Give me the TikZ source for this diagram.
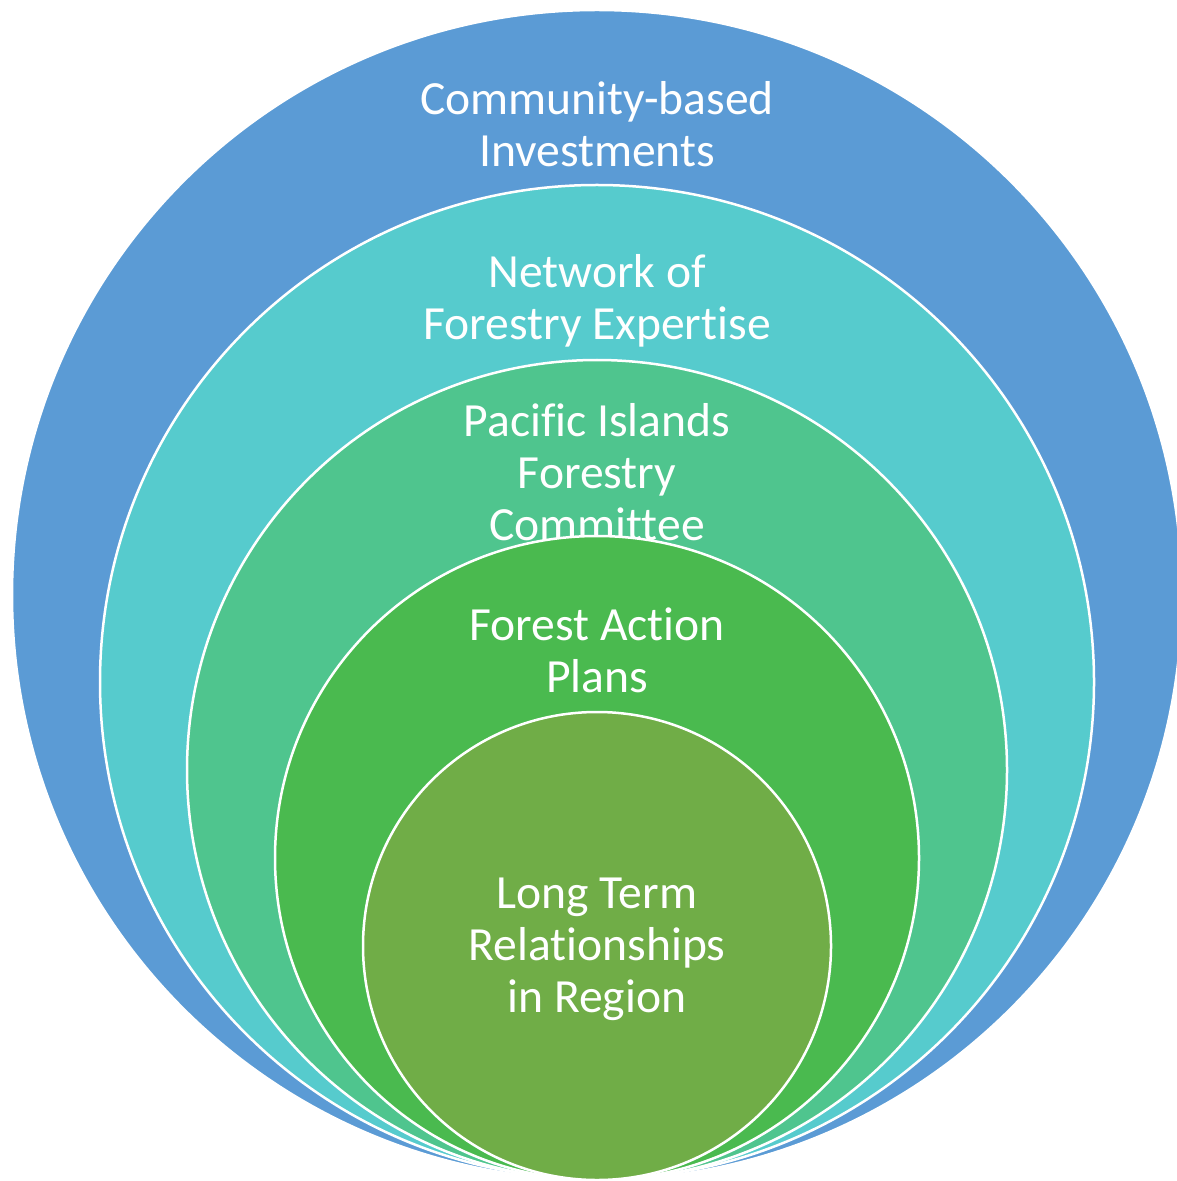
\documentclass[tikz,border=0pt]{standalone}
\usepackage{fontspec}
\setmainfont{Carlito}[RawFeature={-liga,-calt,-dlig,-clig}]
\definecolor{ringA}{HTML}{5B9BD5}
\definecolor{ringB}{HTML}{56CBCD}
\definecolor{ringC}{HTML}{4FC58E}
\definecolor{ringD}{HTML}{4ABA4F}
\definecolor{ringE}{HTML}{70AD47}
\begin{document}
\begin{tikzpicture}[x = 0.5pt, y = -0.5pt,
	ring/.style = {circle, draw = white, line width = 1.25pt, inner sep = 0pt},
	lbl/.style = {text = white, align = center, anchor = base, inner sep = 0pt,
		font = \fontsize{23.8}{26}\selectfont}]
			\useasboundingbox (0,0) rectangle (1176,1181);
			\node[ring, fill = ringA, minimum size = 585pt] (invest) at (597,595) {};
			\node[lbl] (investtxt) at (597,167) {Community-based\\Investments};
			\node[ring, fill = ringB, minimum size = 497pt] (network) at (597,682) {};
			\node[lbl] (networktxt) at (597,340) {Network of\\Forestry Expertise};
			\node[ring, fill = ringC, minimum size = 410pt] (pifc) at (597,770) {};
			\node[lbl] (pifctxt) at (597,540) {Pacific Islands\\Forestry\\Committee};
			\node[ring, fill = ringD, minimum size = 322pt] (plans) at (597,858) {};
			\node[lbl] (planstxt) at (597,692) {Forest Action\\Plans};
			\node[ring, fill = ringE, minimum size = 234pt] (region) at (597,946) {};
			\node[lbl] (regiontxt) at (597,1012) {Long Term\\Relationships\\in Region};
\end{tikzpicture}
\end{document}
